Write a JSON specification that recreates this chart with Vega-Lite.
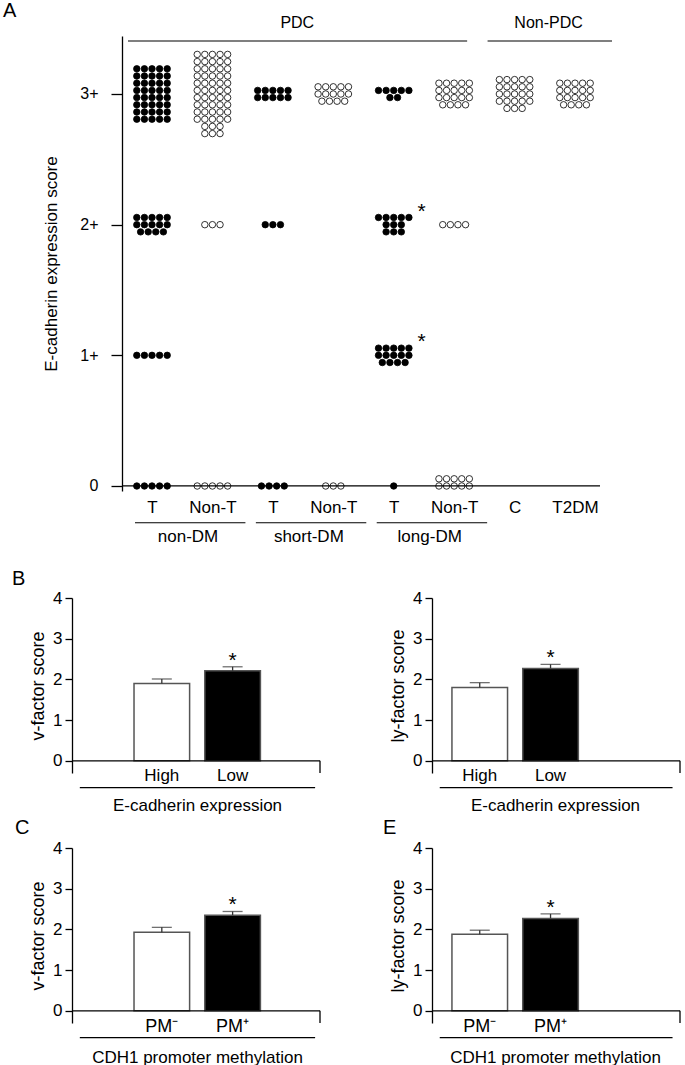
{
"$schema": "https://vega.github.io/schema/vega-lite/v6.json",
"background": "white",
"padding": {"left": 3, "top": 0, "right": 0, "bottom": 0},
"spacing": 24,
"resolve": {"scale": {"fill": "independent"}},
"config": {
  "view": {"stroke": null},
  "font": "Liberation Sans",
  "axis": {"grid": false, "domainColor": "black", "tickColor": "black", "labelColor": "black", "titleColor": "black", "titleFontWeight": "normal", "domainWidth": 1.3, "tickWidth": 1.3, "labelFont": "Liberation Sans", "titleFont": "Liberation Sans"},
  "title": {"fontWeight": "normal", "color": "black", "font": "Liberation Sans", "fontSize": 20},
  "text": {"font": "Liberation Sans", "color": "black"}
},
"vconcat": [
{
  "width": 528, "height": 455,
  "title": {"text": "A", "anchor": "start", "frame": "group", "dx": -69, "dy": 39, "offset": 17, "baseline": "alphabetic"},
  "resolve": {"scale": {"y": "independent"}, "axis": {"y": "independent"}},
  "layer": [
    {
      "data": {"values": [
{"c":"nT","s":3,"f":"T","dx":-2,"dy":-3.5},{"c":"nT","s":3,"f":"T","dx":-1,"dy":-3.5},{"c":"nT","s":3,"f":"T","dx":0,"dy":-3.5},{"c":"nT","s":3,"f":"T","dx":1,"dy":-3.5},{"c":"nT","s":3,"f":"T","dx":2,"dy":-3.5},
{"c":"nT","s":3,"f":"T","dx":-2,"dy":-2.5},{"c":"nT","s":3,"f":"T","dx":-1,"dy":-2.5},{"c":"nT","s":3,"f":"T","dx":0,"dy":-2.5},{"c":"nT","s":3,"f":"T","dx":1,"dy":-2.5},{"c":"nT","s":3,"f":"T","dx":2,"dy":-2.5},
{"c":"nT","s":3,"f":"T","dx":-2,"dy":-1.5},{"c":"nT","s":3,"f":"T","dx":-1,"dy":-1.5},{"c":"nT","s":3,"f":"T","dx":0,"dy":-1.5},{"c":"nT","s":3,"f":"T","dx":1,"dy":-1.5},{"c":"nT","s":3,"f":"T","dx":2,"dy":-1.5},
{"c":"nT","s":3,"f":"T","dx":-2,"dy":-0.5},{"c":"nT","s":3,"f":"T","dx":-1,"dy":-0.5},{"c":"nT","s":3,"f":"T","dx":0,"dy":-0.5},{"c":"nT","s":3,"f":"T","dx":1,"dy":-0.5},{"c":"nT","s":3,"f":"T","dx":2,"dy":-0.5},
{"c":"nT","s":3,"f":"T","dx":-2,"dy":0.5},{"c":"nT","s":3,"f":"T","dx":-1,"dy":0.5},{"c":"nT","s":3,"f":"T","dx":0,"dy":0.5},{"c":"nT","s":3,"f":"T","dx":1,"dy":0.5},{"c":"nT","s":3,"f":"T","dx":2,"dy":0.5},
{"c":"nT","s":3,"f":"T","dx":-2,"dy":1.5},{"c":"nT","s":3,"f":"T","dx":-1,"dy":1.5},{"c":"nT","s":3,"f":"T","dx":0,"dy":1.5},{"c":"nT","s":3,"f":"T","dx":1,"dy":1.5},{"c":"nT","s":3,"f":"T","dx":2,"dy":1.5},
{"c":"nT","s":3,"f":"T","dx":-2,"dy":2.5},{"c":"nT","s":3,"f":"T","dx":-1,"dy":2.5},{"c":"nT","s":3,"f":"T","dx":0,"dy":2.5},{"c":"nT","s":3,"f":"T","dx":1,"dy":2.5},{"c":"nT","s":3,"f":"T","dx":2,"dy":2.5},
{"c":"nT","s":3,"f":"T","dx":-2,"dy":3.5},{"c":"nT","s":3,"f":"T","dx":-1,"dy":3.5},{"c":"nT","s":3,"f":"T","dx":0,"dy":3.5},{"c":"nT","s":3,"f":"T","dx":1,"dy":3.5},{"c":"nT","s":3,"f":"T","dx":2,"dy":3.5},
{"c":"nN","s":3,"f":"N","dx":-2,"dy":-5.5},{"c":"nN","s":3,"f":"N","dx":-1,"dy":-5.5},{"c":"nN","s":3,"f":"N","dx":0,"dy":-5.5},{"c":"nN","s":3,"f":"N","dx":1,"dy":-5.5},{"c":"nN","s":3,"f":"N","dx":2,"dy":-5.5},
{"c":"nN","s":3,"f":"N","dx":-2,"dy":-4.5},{"c":"nN","s":3,"f":"N","dx":-1,"dy":-4.5},{"c":"nN","s":3,"f":"N","dx":0,"dy":-4.5},{"c":"nN","s":3,"f":"N","dx":1,"dy":-4.5},{"c":"nN","s":3,"f":"N","dx":2,"dy":-4.5},
{"c":"nN","s":3,"f":"N","dx":-2,"dy":-3.5},{"c":"nN","s":3,"f":"N","dx":-1,"dy":-3.5},{"c":"nN","s":3,"f":"N","dx":0,"dy":-3.5},{"c":"nN","s":3,"f":"N","dx":1,"dy":-3.5},{"c":"nN","s":3,"f":"N","dx":2,"dy":-3.5},
{"c":"nN","s":3,"f":"N","dx":-2,"dy":-2.5},{"c":"nN","s":3,"f":"N","dx":-1,"dy":-2.5},{"c":"nN","s":3,"f":"N","dx":0,"dy":-2.5},{"c":"nN","s":3,"f":"N","dx":1,"dy":-2.5},{"c":"nN","s":3,"f":"N","dx":2,"dy":-2.5},
{"c":"nN","s":3,"f":"N","dx":-2,"dy":-1.5},{"c":"nN","s":3,"f":"N","dx":-1,"dy":-1.5},{"c":"nN","s":3,"f":"N","dx":0,"dy":-1.5},{"c":"nN","s":3,"f":"N","dx":1,"dy":-1.5},{"c":"nN","s":3,"f":"N","dx":2,"dy":-1.5},
{"c":"nN","s":3,"f":"N","dx":-2,"dy":-0.5},{"c":"nN","s":3,"f":"N","dx":-1,"dy":-0.5},{"c":"nN","s":3,"f":"N","dx":0,"dy":-0.5},{"c":"nN","s":3,"f":"N","dx":1,"dy":-0.5},{"c":"nN","s":3,"f":"N","dx":2,"dy":-0.5},
{"c":"nN","s":3,"f":"N","dx":-2,"dy":0.5},{"c":"nN","s":3,"f":"N","dx":-1,"dy":0.5},{"c":"nN","s":3,"f":"N","dx":0,"dy":0.5},{"c":"nN","s":3,"f":"N","dx":1,"dy":0.5},{"c":"nN","s":3,"f":"N","dx":2,"dy":0.5},
{"c":"nN","s":3,"f":"N","dx":-2,"dy":1.5},{"c":"nN","s":3,"f":"N","dx":-1,"dy":1.5},{"c":"nN","s":3,"f":"N","dx":0,"dy":1.5},{"c":"nN","s":3,"f":"N","dx":1,"dy":1.5},{"c":"nN","s":3,"f":"N","dx":2,"dy":1.5},
{"c":"nN","s":3,"f":"N","dx":-2,"dy":2.5},{"c":"nN","s":3,"f":"N","dx":-1,"dy":2.5},{"c":"nN","s":3,"f":"N","dx":0,"dy":2.5},{"c":"nN","s":3,"f":"N","dx":1,"dy":2.5},{"c":"nN","s":3,"f":"N","dx":2,"dy":2.5},
{"c":"nN","s":3,"f":"N","dx":-2,"dy":3.5},{"c":"nN","s":3,"f":"N","dx":-1,"dy":3.5},{"c":"nN","s":3,"f":"N","dx":0,"dy":3.5},{"c":"nN","s":3,"f":"N","dx":1,"dy":3.5},{"c":"nN","s":3,"f":"N","dx":2,"dy":3.5},
{"c":"nN","s":3,"f":"N","dx":-1,"dy":4.5},{"c":"nN","s":3,"f":"N","dx":0,"dy":4.5},{"c":"nN","s":3,"f":"N","dx":1,"dy":4.5},
{"c":"nN","s":3,"f":"N","dx":-1,"dy":5.5},{"c":"nN","s":3,"f":"N","dx":0,"dy":5.5},{"c":"nN","s":3,"f":"N","dx":1,"dy":5.5},
{"c":"sT","s":3,"f":"T","dx":-2,"dy":-0.5},{"c":"sT","s":3,"f":"T","dx":-1,"dy":-0.5},{"c":"sT","s":3,"f":"T","dx":0,"dy":-0.5},{"c":"sT","s":3,"f":"T","dx":1,"dy":-0.5},{"c":"sT","s":3,"f":"T","dx":2,"dy":-0.5},
{"c":"sT","s":3,"f":"T","dx":-2,"dy":0.5},{"c":"sT","s":3,"f":"T","dx":-1,"dy":0.5},{"c":"sT","s":3,"f":"T","dx":0,"dy":0.5},{"c":"sT","s":3,"f":"T","dx":1,"dy":0.5},{"c":"sT","s":3,"f":"T","dx":2,"dy":0.5},
{"c":"sN","s":3,"f":"N","dx":-2,"dy":-1},{"c":"sN","s":3,"f":"N","dx":-1,"dy":-1},{"c":"sN","s":3,"f":"N","dx":0,"dy":-1},{"c":"sN","s":3,"f":"N","dx":1,"dy":-1},{"c":"sN","s":3,"f":"N","dx":2,"dy":-1},
{"c":"sN","s":3,"f":"N","dx":-2,"dy":0},{"c":"sN","s":3,"f":"N","dx":-1,"dy":0},{"c":"sN","s":3,"f":"N","dx":0,"dy":0},{"c":"sN","s":3,"f":"N","dx":1,"dy":0},{"c":"sN","s":3,"f":"N","dx":2,"dy":0},
{"c":"sN","s":3,"f":"N","dx":-1.5,"dy":1},{"c":"sN","s":3,"f":"N","dx":-0.5,"dy":1},{"c":"sN","s":3,"f":"N","dx":0.5,"dy":1},{"c":"sN","s":3,"f":"N","dx":1.5,"dy":1},
{"c":"lT","s":3,"f":"T","dx":-2,"dy":-0.5},{"c":"lT","s":3,"f":"T","dx":-1,"dy":-0.5},{"c":"lT","s":3,"f":"T","dx":0,"dy":-0.5},{"c":"lT","s":3,"f":"T","dx":1,"dy":-0.5},{"c":"lT","s":3,"f":"T","dx":2,"dy":-0.5},
{"c":"lT","s":3,"f":"T","dx":-0.5,"dy":0.5},{"c":"lT","s":3,"f":"T","dx":0.5,"dy":0.5},
{"c":"lN","s":3,"f":"N","dx":-2,"dy":-1.5},{"c":"lN","s":3,"f":"N","dx":-1,"dy":-1.5},{"c":"lN","s":3,"f":"N","dx":0,"dy":-1.5},{"c":"lN","s":3,"f":"N","dx":1,"dy":-1.5},{"c":"lN","s":3,"f":"N","dx":2,"dy":-1.5},
{"c":"lN","s":3,"f":"N","dx":-2,"dy":-0.5},{"c":"lN","s":3,"f":"N","dx":-1,"dy":-0.5},{"c":"lN","s":3,"f":"N","dx":0,"dy":-0.5},{"c":"lN","s":3,"f":"N","dx":1,"dy":-0.5},{"c":"lN","s":3,"f":"N","dx":2,"dy":-0.5},
{"c":"lN","s":3,"f":"N","dx":-2,"dy":0.5},{"c":"lN","s":3,"f":"N","dx":-1,"dy":0.5},{"c":"lN","s":3,"f":"N","dx":0,"dy":0.5},{"c":"lN","s":3,"f":"N","dx":1,"dy":0.5},{"c":"lN","s":3,"f":"N","dx":2,"dy":0.5},
{"c":"lN","s":3,"f":"N","dx":-1.5,"dy":1.5},{"c":"lN","s":3,"f":"N","dx":-0.5,"dy":1.5},{"c":"lN","s":3,"f":"N","dx":0.5,"dy":1.5},{"c":"lN","s":3,"f":"N","dx":1.5,"dy":1.5},
{"c":"C","s":3,"f":"N","dx":-2,"dy":-2},{"c":"C","s":3,"f":"N","dx":-1,"dy":-2},{"c":"C","s":3,"f":"N","dx":0,"dy":-2},{"c":"C","s":3,"f":"N","dx":1,"dy":-2},{"c":"C","s":3,"f":"N","dx":2,"dy":-2},
{"c":"C","s":3,"f":"N","dx":-2,"dy":-1},{"c":"C","s":3,"f":"N","dx":-1,"dy":-1},{"c":"C","s":3,"f":"N","dx":0,"dy":-1},{"c":"C","s":3,"f":"N","dx":1,"dy":-1},{"c":"C","s":3,"f":"N","dx":2,"dy":-1},
{"c":"C","s":3,"f":"N","dx":-2,"dy":0},{"c":"C","s":3,"f":"N","dx":-1,"dy":0},{"c":"C","s":3,"f":"N","dx":0,"dy":0},{"c":"C","s":3,"f":"N","dx":1,"dy":0},{"c":"C","s":3,"f":"N","dx":2,"dy":0},
{"c":"C","s":3,"f":"N","dx":-2,"dy":1},{"c":"C","s":3,"f":"N","dx":-1,"dy":1},{"c":"C","s":3,"f":"N","dx":0,"dy":1},{"c":"C","s":3,"f":"N","dx":1,"dy":1},{"c":"C","s":3,"f":"N","dx":2,"dy":1},
{"c":"C","s":3,"f":"N","dx":-1,"dy":2},{"c":"C","s":3,"f":"N","dx":0,"dy":2},{"c":"C","s":3,"f":"N","dx":1,"dy":2},
{"c":"T2DM","s":3,"f":"N","dx":-2,"dy":-1.5},{"c":"T2DM","s":3,"f":"N","dx":-1,"dy":-1.5},{"c":"T2DM","s":3,"f":"N","dx":0,"dy":-1.5},{"c":"T2DM","s":3,"f":"N","dx":1,"dy":-1.5},{"c":"T2DM","s":3,"f":"N","dx":2,"dy":-1.5},
{"c":"T2DM","s":3,"f":"N","dx":-2,"dy":-0.5},{"c":"T2DM","s":3,"f":"N","dx":-1,"dy":-0.5},{"c":"T2DM","s":3,"f":"N","dx":0,"dy":-0.5},{"c":"T2DM","s":3,"f":"N","dx":1,"dy":-0.5},{"c":"T2DM","s":3,"f":"N","dx":2,"dy":-0.5},
{"c":"T2DM","s":3,"f":"N","dx":-2,"dy":0.5},{"c":"T2DM","s":3,"f":"N","dx":-1,"dy":0.5},{"c":"T2DM","s":3,"f":"N","dx":0,"dy":0.5},{"c":"T2DM","s":3,"f":"N","dx":1,"dy":0.5},{"c":"T2DM","s":3,"f":"N","dx":2,"dy":0.5},
{"c":"T2DM","s":3,"f":"N","dx":-1.5,"dy":1.5},{"c":"T2DM","s":3,"f":"N","dx":-0.5,"dy":1.5},{"c":"T2DM","s":3,"f":"N","dx":0.5,"dy":1.5},{"c":"T2DM","s":3,"f":"N","dx":1.5,"dy":1.5},
{"c":"nT","s":2,"f":"T","dx":-2,"dy":-1},{"c":"nT","s":2,"f":"T","dx":-1,"dy":-1},{"c":"nT","s":2,"f":"T","dx":0,"dy":-1},{"c":"nT","s":2,"f":"T","dx":1,"dy":-1},{"c":"nT","s":2,"f":"T","dx":2,"dy":-1},
{"c":"nT","s":2,"f":"T","dx":-2,"dy":0},{"c":"nT","s":2,"f":"T","dx":-1,"dy":0},{"c":"nT","s":2,"f":"T","dx":0,"dy":0},{"c":"nT","s":2,"f":"T","dx":1,"dy":0},{"c":"nT","s":2,"f":"T","dx":2,"dy":0},
{"c":"nT","s":2,"f":"T","dx":-1.5,"dy":1},{"c":"nT","s":2,"f":"T","dx":-0.5,"dy":1},{"c":"nT","s":2,"f":"T","dx":0.5,"dy":1},{"c":"nT","s":2,"f":"T","dx":1.5,"dy":1},
{"c":"nN","s":2,"f":"N","dx":-1,"dy":0},{"c":"nN","s":2,"f":"N","dx":0,"dy":0},{"c":"nN","s":2,"f":"N","dx":1,"dy":0},
{"c":"sT","s":2,"f":"T","dx":-1,"dy":0},{"c":"sT","s":2,"f":"T","dx":0,"dy":0},{"c":"sT","s":2,"f":"T","dx":1,"dy":0},
{"c":"lT","s":2,"f":"T","dx":-2,"dy":-1},{"c":"lT","s":2,"f":"T","dx":-1,"dy":-1},{"c":"lT","s":2,"f":"T","dx":0,"dy":-1},{"c":"lT","s":2,"f":"T","dx":1,"dy":-1},{"c":"lT","s":2,"f":"T","dx":2,"dy":-1},
{"c":"lT","s":2,"f":"T","dx":-1,"dy":0},{"c":"lT","s":2,"f":"T","dx":0,"dy":0},{"c":"lT","s":2,"f":"T","dx":1,"dy":0},
{"c":"lT","s":2,"f":"T","dx":-1,"dy":1},{"c":"lT","s":2,"f":"T","dx":0,"dy":1},{"c":"lT","s":2,"f":"T","dx":1,"dy":1},
{"c":"lN","s":2,"f":"N","dx":-1.5,"dy":0},{"c":"lN","s":2,"f":"N","dx":-0.5,"dy":0},{"c":"lN","s":2,"f":"N","dx":0.5,"dy":0},{"c":"lN","s":2,"f":"N","dx":1.5,"dy":0},
{"c":"nT","s":1,"f":"T","dx":-2,"dy":0},{"c":"nT","s":1,"f":"T","dx":-1,"dy":0},{"c":"nT","s":1,"f":"T","dx":0,"dy":0},{"c":"nT","s":1,"f":"T","dx":1,"dy":0},{"c":"nT","s":1,"f":"T","dx":2,"dy":0},
{"c":"lT","s":1,"f":"T","dx":-2,"dy":-1},{"c":"lT","s":1,"f":"T","dx":-1,"dy":-1},{"c":"lT","s":1,"f":"T","dx":0,"dy":-1},{"c":"lT","s":1,"f":"T","dx":1,"dy":-1},{"c":"lT","s":1,"f":"T","dx":2,"dy":-1},
{"c":"lT","s":1,"f":"T","dx":-2,"dy":0},{"c":"lT","s":1,"f":"T","dx":-1,"dy":0},{"c":"lT","s":1,"f":"T","dx":0,"dy":0},{"c":"lT","s":1,"f":"T","dx":1,"dy":0},{"c":"lT","s":1,"f":"T","dx":2,"dy":0},
{"c":"lT","s":1,"f":"T","dx":-1.5,"dy":1},{"c":"lT","s":1,"f":"T","dx":-0.5,"dy":1},{"c":"lT","s":1,"f":"T","dx":0.5,"dy":1},{"c":"lT","s":1,"f":"T","dx":1.5,"dy":1},
{"c":"nT","s":0,"f":"T","dx":-2,"dy":0},{"c":"nT","s":0,"f":"T","dx":-1,"dy":0},{"c":"nT","s":0,"f":"T","dx":0,"dy":0},{"c":"nT","s":0,"f":"T","dx":1,"dy":0},{"c":"nT","s":0,"f":"T","dx":2,"dy":0},
{"c":"nN","s":0,"f":"N","dx":-2,"dy":0},{"c":"nN","s":0,"f":"N","dx":-1,"dy":0},{"c":"nN","s":0,"f":"N","dx":0,"dy":0},{"c":"nN","s":0,"f":"N","dx":1,"dy":0},{"c":"nN","s":0,"f":"N","dx":2,"dy":0},
{"c":"sT","s":0,"f":"T","dx":-1.5,"dy":0},{"c":"sT","s":0,"f":"T","dx":-0.5,"dy":0},{"c":"sT","s":0,"f":"T","dx":0.5,"dy":0},{"c":"sT","s":0,"f":"T","dx":1.5,"dy":0},
{"c":"sN","s":0,"f":"N","dx":-1,"dy":0},{"c":"sN","s":0,"f":"N","dx":0,"dy":0},{"c":"sN","s":0,"f":"N","dx":1,"dy":0},
{"c":"lT","s":0,"f":"T","dx":0,"dy":0},
{"c":"lN","s":0,"f":"N","dx":-2,"dy":-1},{"c":"lN","s":0,"f":"N","dx":-1,"dy":-1},{"c":"lN","s":0,"f":"N","dx":0,"dy":-1},{"c":"lN","s":0,"f":"N","dx":1,"dy":-1},{"c":"lN","s":0,"f":"N","dx":2,"dy":-1},
{"c":"lN","s":0,"f":"N","dx":-2,"dy":0},{"c":"lN","s":0,"f":"N","dx":-1,"dy":0},{"c":"lN","s":0,"f":"N","dx":0,"dy":0},{"c":"lN","s":0,"f":"N","dx":1,"dy":0},{"c":"lN","s":0,"f":"N","dx":2,"dy":0}
      ]},
      "mark": {"type": "point", "shape": "circle", "filled": true, "size": 42, "stroke": "black", "strokeWidth": 0.8, "opacity": 1},
      "encoding": {
        "x": {"field": "c", "type": "nominal",
              "scale": {"type": "point", "domain": ["nT","nN","sT","sN","lT","lN","C","T2DM"], "range": [80, 503], "padding": 0},
              "axis": {"orient": "bottom", "domain": false, "ticks": false, "labelFontSize": 17, "labelPadding": 8, "labelAngle": 0, "title": null,
                       "labelExpr": "indexof(['nT','sT','lT'], datum.value) >= 0 ? 'T' : (indexof(['nN','sN','lN'], datum.value) >= 0 ? 'Non-T' : datum.value)"}},
        "y": {"field": "s", "type": "ordinal",
              "scale": {"type": "point", "domain": [3, 2, 1, 0], "range": [58, 450], "padding": 0},
              "axis": null},
        "xOffset": {"field": "dx", "type": "quantitative", "scale": {"domain": [-2, 2], "range": [-15.2, 15.2], "nice": false, "zero": false}},
        "yOffset": {"field": "dy", "type": "quantitative", "scale": {"domain": [-5.5, 5.5], "range": [-39.6, 39.6], "nice": false, "zero": false}},
        "fill": {"field": "f", "type": "nominal", "scale": {"domain": ["T", "N"], "range": ["black", "white"]}, "legend": null}
      }
    },
    {
      "layer": [
        {
          "data": {"values": [{}]},
          "mark": {"type": "rule", "color": "black", "strokeWidth": 1.3, "xOffset": -30, "x2Offset": 25},
          "encoding": {"x": {"datum": "nT"}, "x2": {"datum": "T2DM"},
            "y": {"datum": 0, "type": "quantitative", "scale": {"domain": [-0.04, 3.444], "nice": false, "zero": false},
                  "axis": {"orient": "left", "values": [0,1,2,3], "offset": -50, "tickSize": 11, "labelPadding": 13, "labelFontSize": 16,
                           "labelExpr": "datum.value == 0 ? '0' : datum.value + '+'",
                           "title": "E-cadherin expression score", "titleFontSize": 17, "titlePadding": 19}}}
        },
        {
          "data": {"values": [{"c": "lT", "s": 2, "t": "*"}, {"c": "lT", "s": 1, "t": "*"}]},
          "mark": {"type": "text", "dx": 28, "dy": -13, "fontSize": 21},
          "encoding": {"x": {"field": "c", "type": "nominal"},
            "y": {"field": "s", "type": "quantitative", "scale": {"domain": [-0.04, 3.444], "nice": false, "zero": false}},
            "text": {"field": "t"}}
        },
        {
          "data": {"values": [{"a": "nT", "b": "nN", "g": "non-DM"}, {"a": "sT", "b": "sN", "g": "short-DM"}, {"a": "lT", "b": "lN", "g": "long-DM"}]},
          "mark": {"type": "rule", "color": "black", "strokeWidth": 1.1, "xOffset": -17, "x2Offset": 33},
          "encoding": {"x": {"field": "a", "type": "nominal"}, "x2": {"field": "b"},
            "y": {"datum": -0.283, "type": "quantitative", "scale": {"domain": [-0.04, 3.444], "nice": false, "zero": false}}}
        },
        {
          "data": {"values": [{"a": "nT", "b": "nN", "g": "non-DM"}, {"a": "sT", "b": "sN", "g": "short-DM"}, {"a": "lT", "b": "lN", "g": "long-DM"}]},
          "mark": {"type": "text", "dx": 36, "fontSize": 17},
          "encoding": {"x": {"field": "a", "type": "nominal"},
            "y": {"datum": -0.39, "type": "quantitative", "scale": {"domain": [-0.04, 3.444], "nice": false, "zero": false}},
            "text": {"field": "g"}}
        },
        {
          "data": {"values": [{}]},
          "mark": {"type": "rule", "color": "black", "strokeWidth": 1.1, "xOffset": -24, "x2Offset": 13},
          "encoding": {"x": {"datum": "nT"}, "x2": {"datum": "lN"},
            "y": {"datum": 3.406, "type": "quantitative", "scale": {"domain": [-0.04, 3.444], "nice": false, "zero": false}}}
        },
        {
          "data": {"values": [{}]},
          "mark": {"type": "text", "dx": -36, "fontSize": 16},
          "encoding": {"x": {"datum": "sN"},
            "y": {"datum": 3.544, "type": "quantitative", "scale": {"domain": [-0.04, 3.444], "nice": false, "zero": false}},
            "text": {"value": "PDC"}}
        },
        {
          "data": {"values": [{}]},
          "mark": {"type": "rule", "color": "black", "strokeWidth": 1.1, "xOffset": -27, "x2Offset": 37},
          "encoding": {"x": {"datum": "C"}, "x2": {"datum": "T2DM"},
            "y": {"datum": 3.406, "type": "quantitative", "scale": {"domain": [-0.04, 3.444], "nice": false, "zero": false}}}
        },
        {
          "data": {"values": [{}]},
          "mark": {"type": "text", "dx": 34, "fontSize": 16},
          "encoding": {"x": {"datum": "C"},
            "y": {"datum": 3.544, "type": "quantitative", "scale": {"domain": [-0.04, 3.444], "nice": false, "zero": false}},
            "text": {"value": "Non-PDC"}}
        }
      ]
    }
  ]
},
{
  "spacing": 5,
  "resolve": {"scale": {"fill": "independent"}},
  "vconcat": [
    {
      "spacing": 112, "bounds": "flush",
      "resolve": {"scale": {"fill": "independent"}},
      "hconcat": [
        {
          "width": 248, "height": 175,
          "title": {"text": "B", "anchor": "start", "frame": "group", "dx": -60, "dy": 32, "offset": 16, "baseline": "alphabetic"},
          "data": {"values": [{"g": "High", "v": 1.90, "u": 2.01, "t": ""}, {"g": "Low", "v": 2.21, "u": 2.31, "t": "*"}]},
          "layer": [
            {"mark": {"type": "bar", "stroke": "#555", "strokeWidth": 1.5, "size": 55.6},
             "encoding": {
               "x": {"field": "g", "type": "nominal", "scale": {"type": "band", "domain": ["High", "Low"], "paddingInner": 0.2147, "paddingOuter": 0.8588, "align": 0.51},
                     "axis": {"domain": false, "ticks": false, "labelFontSize": 17, "labelPadding": -6, "labelAngle": 0, "title": "E-cadherin expression", "titleFontSize": 17, "titlePadding": 14, "titleX": 125}},
               "y": {"field": "v", "type": "quantitative", "scale": {"domain": [-0.3, 4], "nice": false, "zero": false},
                     "axis": {"values": [0,1,2,3,4], "title": "v-factor score", "titleFontSize": 18, "labelFontSize": 17, "tickSize": 7, "labelPadding": 3, "titlePadding": 5}},
               "y2": {"datum": 0},
               "fill": {"field": "g", "type": "nominal", "scale": {"domain": ["High", "Low"], "range": ["white", "black"]}, "legend": null}}},
            {"mark": {"type": "rule", "color": "#333", "strokeWidth": 1.3},
             "encoding": {"x": {"field": "g", "type": "nominal"}, "y": {"field": "v", "type": "quantitative"}, "y2": {"field": "u"}}},
            {"mark": {"type": "tick", "color": "#333", "thickness": 1.3, "size": 20, "orient": "horizontal"},
             "encoding": {"x": {"field": "g", "type": "nominal"}, "y": {"field": "u", "type": "quantitative"}}},
            {"mark": {"type": "text", "dy": -6, "fontSize": 21},
             "encoding": {"x": {"field": "g", "type": "nominal"}, "y": {"field": "u", "type": "quantitative"}, "text": {"field": "t"}}},
            {"data": {"values": [{}]}, "mark": {"type": "rule", "color": "black", "strokeWidth": 1.3}, "encoding": {"y": {"datum": 0}}},
            {"data": {"values": [{}]}, "mark": {"type": "rule", "color": "black", "strokeWidth": 1.3, "x": "width"}, "encoding": {"y": {"datum": 0}, "y2": {"datum": -0.3}}},
            {"data": {"values": [{}]}, "mark": {"type": "rule", "color": "black", "strokeWidth": 1.1, "xOffset": -82, "x2Offset": 82.5},
             "encoding": {"x": {"datum": "High"}, "x2": {"datum": "Low"}, "y": {"datum": -0.66}}}
          ]
        },
        {
          "width": 248, "height": 175,
          "data": {"values": [{"g": "High", "v": 1.80, "u": 1.92, "t": ""}, {"g": "Low", "v": 2.27, "u": 2.37, "t": "*"}]},
          "layer": [
            {"mark": {"type": "bar", "stroke": "#555", "strokeWidth": 1.5, "size": 55.6},
             "encoding": {
               "x": {"field": "g", "type": "nominal", "scale": {"type": "band", "domain": ["High", "Low"], "paddingInner": 0.2147, "paddingOuter": 0.8588, "align": 0.164},
                     "axis": {"domain": false, "ticks": false, "labelFontSize": 17, "labelPadding": -6, "labelAngle": 0, "title": "E-cadherin expression", "titleFontSize": 17, "titlePadding": 14, "titleX": 123}},
               "y": {"field": "v", "type": "quantitative", "scale": {"domain": [-0.3, 4], "nice": false, "zero": false},
                     "axis": {"values": [0,1,2,3,4], "title": "ly-factor score", "titleFontSize": 18, "labelFontSize": 17, "tickSize": 7, "labelPadding": 3, "titlePadding": 5}},
               "y2": {"datum": 0},
               "fill": {"field": "g", "type": "nominal", "scale": {"domain": ["High", "Low"], "range": ["white", "black"]}, "legend": null}}},
            {"mark": {"type": "rule", "color": "#333", "strokeWidth": 1.3},
             "encoding": {"x": {"field": "g", "type": "nominal"}, "y": {"field": "v", "type": "quantitative"}, "y2": {"field": "u"}}},
            {"mark": {"type": "tick", "color": "#333", "thickness": 1.3, "size": 20, "orient": "horizontal"},
             "encoding": {"x": {"field": "g", "type": "nominal"}, "y": {"field": "u", "type": "quantitative"}}},
            {"mark": {"type": "text", "dy": -6, "fontSize": 21},
             "encoding": {"x": {"field": "g", "type": "nominal"}, "y": {"field": "u", "type": "quantitative"}, "text": {"field": "t"}}},
            {"data": {"values": [{}]}, "mark": {"type": "rule", "color": "black", "strokeWidth": 1.3}, "encoding": {"y": {"datum": 0}}},
            {"data": {"values": [{}]}, "mark": {"type": "rule", "color": "black", "strokeWidth": 1.3, "x": "width"}, "encoding": {"y": {"datum": 0}, "y2": {"datum": -0.3}}},
            {"data": {"values": [{}]}, "mark": {"type": "rule", "color": "black", "strokeWidth": 1.1, "xOffset": -40, "x2Offset": 122},
             "encoding": {"x": {"datum": "High"}, "x2": {"datum": "Low"}, "y": {"datum": -0.66}}}
          ]
        }
      ]
    },
    {
      "spacing": 112, "bounds": "flush",
      "resolve": {"scale": {"fill": "independent"}},
      "hconcat": [
        {
          "width": 248, "height": 175,
          "title": {"text": "C", "anchor": "start", "frame": "group", "dx": -57, "dy": 31, "offset": 16, "baseline": "alphabetic"},
          "data": {"values": [{"g": "PM⁻", "v": 1.93, "u": 2.05, "t": ""}, {"g": "PM⁺", "v": 2.35, "u": 2.44, "t": "*"}]},
          "layer": [
            {"mark": {"type": "bar", "stroke": "#555", "strokeWidth": 1.5, "size": 55.6},
             "encoding": {
               "x": {"field": "g", "type": "nominal", "scale": {"type": "band", "domain": ["PM⁻", "PM⁺"], "paddingInner": 0.2147, "paddingOuter": 0.8588, "align": 0.51},
                     "axis": {"domain": false, "ticks": false, "labelFontSize": 18, "labelPadding": -6, "labelAngle": 0, "title": "CDH1 promoter methylation", "titleFontSize": 17, "titlePadding": 14, "titleX": 125}},
               "y": {"field": "v", "type": "quantitative", "scale": {"domain": [-0.3, 4], "nice": false, "zero": false},
                     "axis": {"values": [0,1,2,3,4], "title": "v-factor score", "titleFontSize": 18, "labelFontSize": 17, "tickSize": 7, "labelPadding": 3, "titlePadding": 5}},
               "y2": {"datum": 0},
               "fill": {"field": "g", "type": "nominal", "scale": {"domain": ["PM⁻", "PM⁺"], "range": ["white", "black"]}, "legend": null}}},
            {"mark": {"type": "rule", "color": "#333", "strokeWidth": 1.3},
             "encoding": {"x": {"field": "g", "type": "nominal"}, "y": {"field": "v", "type": "quantitative"}, "y2": {"field": "u"}}},
            {"mark": {"type": "tick", "color": "#333", "thickness": 1.3, "size": 20, "orient": "horizontal"},
             "encoding": {"x": {"field": "g", "type": "nominal"}, "y": {"field": "u", "type": "quantitative"}}},
            {"mark": {"type": "text", "dy": -6, "fontSize": 21},
             "encoding": {"x": {"field": "g", "type": "nominal"}, "y": {"field": "u", "type": "quantitative"}, "text": {"field": "t"}}},
            {"data": {"values": [{}]}, "mark": {"type": "rule", "color": "black", "strokeWidth": 1.3}, "encoding": {"y": {"datum": 0}}},
            {"data": {"values": [{}]}, "mark": {"type": "rule", "color": "black", "strokeWidth": 1.3, "x": "width"}, "encoding": {"y": {"datum": 0}, "y2": {"datum": -0.3}}},
            {"data": {"values": [{}]}, "mark": {"type": "rule", "color": "black", "strokeWidth": 1.1, "xOffset": -82, "x2Offset": 82.5},
             "encoding": {"x": {"datum": "PM⁻"}, "x2": {"datum": "PM⁺"}, "y": {"datum": -0.66}}}
          ]
        },
        {
          "width": 248, "height": 175,
          "title": {"text": "E", "anchor": "start", "frame": "group", "dx": -49, "dy": 31, "offset": 16, "baseline": "alphabetic"},
          "data": {"values": [{"g": "PM⁻", "v": 1.88, "u": 1.98, "t": ""}, {"g": "PM⁺", "v": 2.27, "u": 2.38, "t": "*"}]},
          "layer": [
            {"mark": {"type": "bar", "stroke": "#555", "strokeWidth": 1.5, "size": 55.6},
             "encoding": {
               "x": {"field": "g", "type": "nominal", "scale": {"type": "band", "domain": ["PM⁻", "PM⁺"], "paddingInner": 0.2147, "paddingOuter": 0.8588, "align": 0.164},
                     "axis": {"domain": false, "ticks": false, "labelFontSize": 18, "labelPadding": -6, "labelAngle": 0, "title": "CDH1 promoter methylation", "titleFontSize": 17, "titlePadding": 14, "titleX": 123}},
               "y": {"field": "v", "type": "quantitative", "scale": {"domain": [-0.3, 4], "nice": false, "zero": false},
                     "axis": {"values": [0,1,2,3,4], "title": "ly-factor score", "titleFontSize": 18, "labelFontSize": 17, "tickSize": 7, "labelPadding": 3, "titlePadding": 5}},
               "y2": {"datum": 0},
               "fill": {"field": "g", "type": "nominal", "scale": {"domain": ["PM⁻", "PM⁺"], "range": ["white", "black"]}, "legend": null}}},
            {"mark": {"type": "rule", "color": "#333", "strokeWidth": 1.3},
             "encoding": {"x": {"field": "g", "type": "nominal"}, "y": {"field": "v", "type": "quantitative"}, "y2": {"field": "u"}}},
            {"mark": {"type": "tick", "color": "#333", "thickness": 1.3, "size": 20, "orient": "horizontal"},
             "encoding": {"x": {"field": "g", "type": "nominal"}, "y": {"field": "u", "type": "quantitative"}}},
            {"mark": {"type": "text", "dy": -6, "fontSize": 21},
             "encoding": {"x": {"field": "g", "type": "nominal"}, "y": {"field": "u", "type": "quantitative"}, "text": {"field": "t"}}},
            {"data": {"values": [{}]}, "mark": {"type": "rule", "color": "black", "strokeWidth": 1.3}, "encoding": {"y": {"datum": 0}}},
            {"data": {"values": [{}]}, "mark": {"type": "rule", "color": "black", "strokeWidth": 1.3, "x": "width"}, "encoding": {"y": {"datum": 0}, "y2": {"datum": -0.3}}},
            {"data": {"values": [{}]}, "mark": {"type": "rule", "color": "black", "strokeWidth": 1.1, "xOffset": -40, "x2Offset": 122},
             "encoding": {"x": {"datum": "PM⁻"}, "x2": {"datum": "PM⁺"}, "y": {"datum": -0.66}}}
          ]
        }
      ]
    }
  ]
}
]
}
